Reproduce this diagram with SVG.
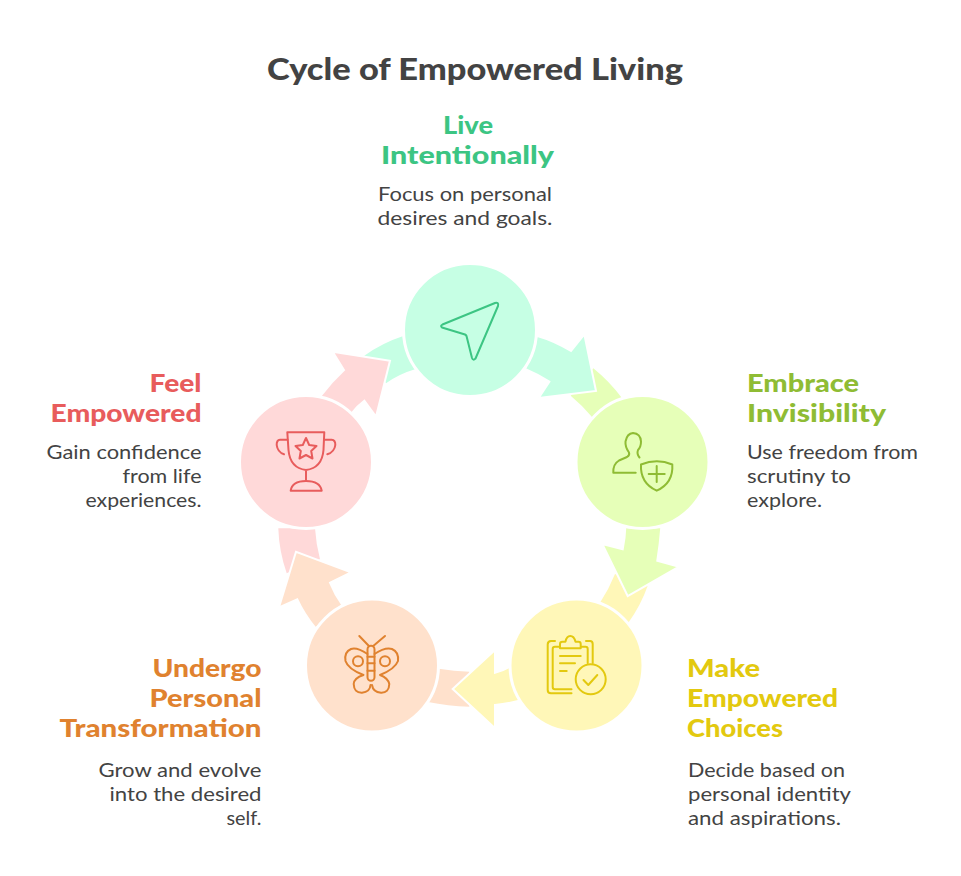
<svg xmlns="http://www.w3.org/2000/svg" width="961" height="876" viewBox="0 0 961 876">
<style>
text{font-family:"Lato","Open Sans","Liberation Sans",sans-serif}
.title{font-size:30px;font-weight:900;fill:#434343;text-anchor:middle}
.h{font-size:25px;font-weight:900}
.d{font-size:19px;fill:#434343;font-weight:400}
.r{text-anchor:end}
.m{text-anchor:middle}
.arrow{stroke:#fff;stroke-width:2;stroke-linejoin:miter}
.disc{stroke:#fff;stroke-width:3}
.ic{fill:none;stroke-width:2;stroke-linecap:round;stroke-linejoin:round}
.gn{fill:#C6FFE4}.lm{fill:#E6FFB8}.yl{fill:#FFF7B8}.or{fill:#FFE1CC}.pk{fill:#FFD9D9}
</style>
<rect width="961" height="876" fill="#fff"/>
<text class="title" x="475" y="79.500" textLength="416" lengthAdjust="spacingAndGlyphs">Cycle of Empowered Living</text>
<g id="connectors">
<path class="gn" d="M364.3 355.7Q382 343 403.3 336L415 369.3Q399 374 386 383.3Z"/>
<path class="lm" d="M593.3 368.3Q609 381 621.7 397.7L592.7 417.7Q582 405 570.7 395.7Z"/>
<path class="yl" d="M615 574L647.7 585.7Q641 605 628.3 622.7L600 602.7Q609 589 615 574Z"/>
<path class="or" d="M438.7 668.7Q454 671 469.3 671.7V706.7Q448 706 428 702Z"/>
<path class="pk" d="M278.3 528.3H315Q316 544 320 559.3L286.7 573.3Q279 551 278.3 528.3Z"/>
<path class="arrow pk" d="M320 396.7Q331 382 344 370L332.7 351.7L390 360.7L376 416.7L364.3 400.7Q357 406 351.7 413.3Z"/>
<path class="arrow gn" d="M536.7 335.7Q555 341 571 351L584.3 334.3L596 391L538.7 398L549.3 381.7Q537 374 525 369Z"/>
<path class="arrow lm" d="M625.3 527.3H661.3Q660 544 657.3 560.7L679 566.7L627.7 596L602.3 544L622.7 549.3Q625 538 625.3 527.3Z"/>
<path class="arrow yl" d="M510 666.7L519.3 700.7Q507 704 495 705V728.3L452.7 689L495 650V672.7Q503 671 510 666.7Z"/>
<path class="arrow or" d="M315.7 628.3Q304 614 297.3 599.3L279 607.3L296 551.7L351 572.3L330 582.7Q335 595 342.3 605Z"/>
</g>
<g id="node-live">
<circle class="disc gn" cx="470" cy="330" r="66.5"/>
<path class="ic" stroke="#3CC583" d="M442.5 324.5Q440 326 442 327.5L465 334.5Q466 335 466.5 336L472 358Q473 361 475.5 358.5L498 306Q499 302 495 303Z"/>
<text class="h m" fill="#3CC583" x="468" y="134" textLength="50" lengthAdjust="spacingAndGlyphs">Live</text>
<text class="h m" fill="#3CC583" x="467.5" y="164" textLength="173" lengthAdjust="spacingAndGlyphs">Intentionally</text>
<text class="d m" x="465" y="201" textLength="174" lengthAdjust="spacingAndGlyphs">Focus on personal</text>
<text class="d m" x="465" y="225" textLength="175" lengthAdjust="spacingAndGlyphs">desires and goals.</text>
</g>
<g id="node-embrace">
<circle class="disc lm" cx="642.500" cy="462" r="66.5"/>
<path class="ic" stroke="#8FBC34" d="M635.7 472.7H613.3Q613 464 619 460.5L627 457Q630 455 629 452.5Q625 447 625.5 441.5Q627 433.5 633 433Q640.5 433.5 641 441.5Q641 447 638 450Q636.500 454 639.500 457.500"/>
<path class="ic" stroke="#8FBC34" d="M641 464.500Q657 458 672.300 464.500Q673.500 483 656.700 490.700Q640 483 641 464.500ZM656.700 466V482M648.700 474H664.700"/>
<text class="h" fill="#8FBC34" x="747" y="392" textLength="112" lengthAdjust="spacingAndGlyphs">Embrace</text>
<text class="h" fill="#8FBC34" x="747" y="422" textLength="139" lengthAdjust="spacingAndGlyphs">Invisibility</text>
<text class="d" x="747" y="459" textLength="171" lengthAdjust="spacingAndGlyphs">Use freedom from</text>
<text class="d" x="747" y="483" textLength="104" lengthAdjust="spacingAndGlyphs">scrutiny to</text>
<text class="d" x="747" y="507" textLength="75" lengthAdjust="spacingAndGlyphs">explore.</text>
</g>
<g id="node-choices">
<circle class="disc yl" cx="576.500" cy="665.500" r="66.5"/>
<g class="ic" stroke="#E3C90F">
<path d="M555 641H551Q547.700 641 547.700 644.500V690Q547.700 693.300 551 693.300H571.500M586 641H590Q592.700 641 592.700 644V663"/>
<path d="M560 646.700H555Q552.700 646.700 552.700 649V687Q552.700 689.300 555 689.300H571.500M581 646.700H585.500Q587.700 646.700 587.700 649V663"/>
<path d="M560 648.300V644Q560 641.700 562.500 641.700H565.500Q566.500 636 570.300 636Q574 636 575.500 641.700H578.500Q580.700 641.700 580.700 644V648.300Z"/>
<path d="M560 656H580.700M560 663.300H575M560 671H566.700"/>
<circle cx="590.700" cy="679.300" r="15"/>
<path d="M583.500 680L588.300 685L597.300 675"/>
</g>
<text class="h" fill="#E3C90F" x="687" y="677" textLength="73" lengthAdjust="spacingAndGlyphs">Make</text>
<text class="h" fill="#E3C90F" x="687" y="707" textLength="151" lengthAdjust="spacingAndGlyphs">Empowered</text>
<text class="h" fill="#E3C90F" x="687" y="737" textLength="96" lengthAdjust="spacingAndGlyphs">Choices</text>
<text class="d" x="688" y="777" textLength="157" lengthAdjust="spacingAndGlyphs">Decide based on</text>
<text class="d" x="688" y="801" textLength="163" lengthAdjust="spacingAndGlyphs">personal identity</text>
<text class="d" x="688" y="825" textLength="153" lengthAdjust="spacingAndGlyphs">and aspirations.</text>
</g>
<g id="node-transformation">
<circle class="disc or" cx="372" cy="665.500" r="66.5"/>
<g class="ic" stroke="#E0822F">
<rect x="367.500" y="645.700" width="7" height="35" rx="3.500"/>
<path d="M367.500 656.700H374.500M367.500 663.300H374.500M367.500 670.700H374.500"/>
<path d="M368.700 645.700L359.300 636M373.500 645.700L385 636"/>
<path d="M367.500 654Q357 647 351 649Q344 652 345.500 661Q348 669 363.500 675Q354 678 353.700 684Q354 693 362 692.700Q370 692 370.500 685"/>
<path d="M374.500 654Q385 647 392 649Q399 652 398 661Q395 669 380 675Q388 678 389.300 684Q389 693 381 692.700Q373 692 372 685"/>
<circle cx="358" cy="661.300" r="5"/>
<circle cx="385" cy="661.300" r="5"/>
</g>
<text class="h r" fill="#E0822F" x="261.500" y="677" textLength="109" lengthAdjust="spacingAndGlyphs">Undergo</text>
<text class="h r" fill="#E0822F" x="261.500" y="707" textLength="112" lengthAdjust="spacingAndGlyphs">Personal</text>
<text class="h r" fill="#E0822F" x="261.500" y="737" textLength="202" lengthAdjust="spacingAndGlyphs">Transformation</text>
<text class="d r" x="261.500" y="777" textLength="163" lengthAdjust="spacingAndGlyphs">Grow and evolve</text>
<text class="d r" x="261.500" y="801" textLength="152" lengthAdjust="spacingAndGlyphs">into the desired</text>
<text class="d r" x="261.500" y="825" textLength="35" lengthAdjust="spacingAndGlyphs">self.</text>
</g>
<g id="node-feel">
<circle class="disc pk" cx="306" cy="462" r="66.5"/>
<g class="ic" stroke="#E85C5C">
<path d="M287.300 432.300H324.300L323.500 450Q322 468 306 470Q290 468 288.500 450ZM306 470V481"/>
<path d="M290.700 490.700Q292 481 306 481Q320 481 321.700 490.700Z"/>
<path d="M287.500 439.700H280Q276.500 440 276.700 445Q277.500 452 284 454.300M324 439.700H331.700Q335.500 440 335.300 445Q334.500 452 327.300 454.300"/>
<path d="M306 438L309.200 445L316.500 446L311.200 451L312.500 458.500L306 455L299.500 458.500L300.800 451L295.500 446L302.800 445Z"/>
</g>
<text class="h r" fill="#E85C5C" x="201.500" y="392" textLength="52" lengthAdjust="spacingAndGlyphs">Feel</text>
<text class="h r" fill="#E85C5C" x="201.500" y="422" textLength="151" lengthAdjust="spacingAndGlyphs">Empowered</text>
<text class="d r" x="201.500" y="459" textLength="155" lengthAdjust="spacingAndGlyphs">Gain confidence</text>
<text class="d r" x="201.500" y="483" textLength="79" lengthAdjust="spacingAndGlyphs">from life</text>
<text class="d r" x="201.500" y="507" textLength="116" lengthAdjust="spacingAndGlyphs">experiences.</text>
</g>
</svg>
